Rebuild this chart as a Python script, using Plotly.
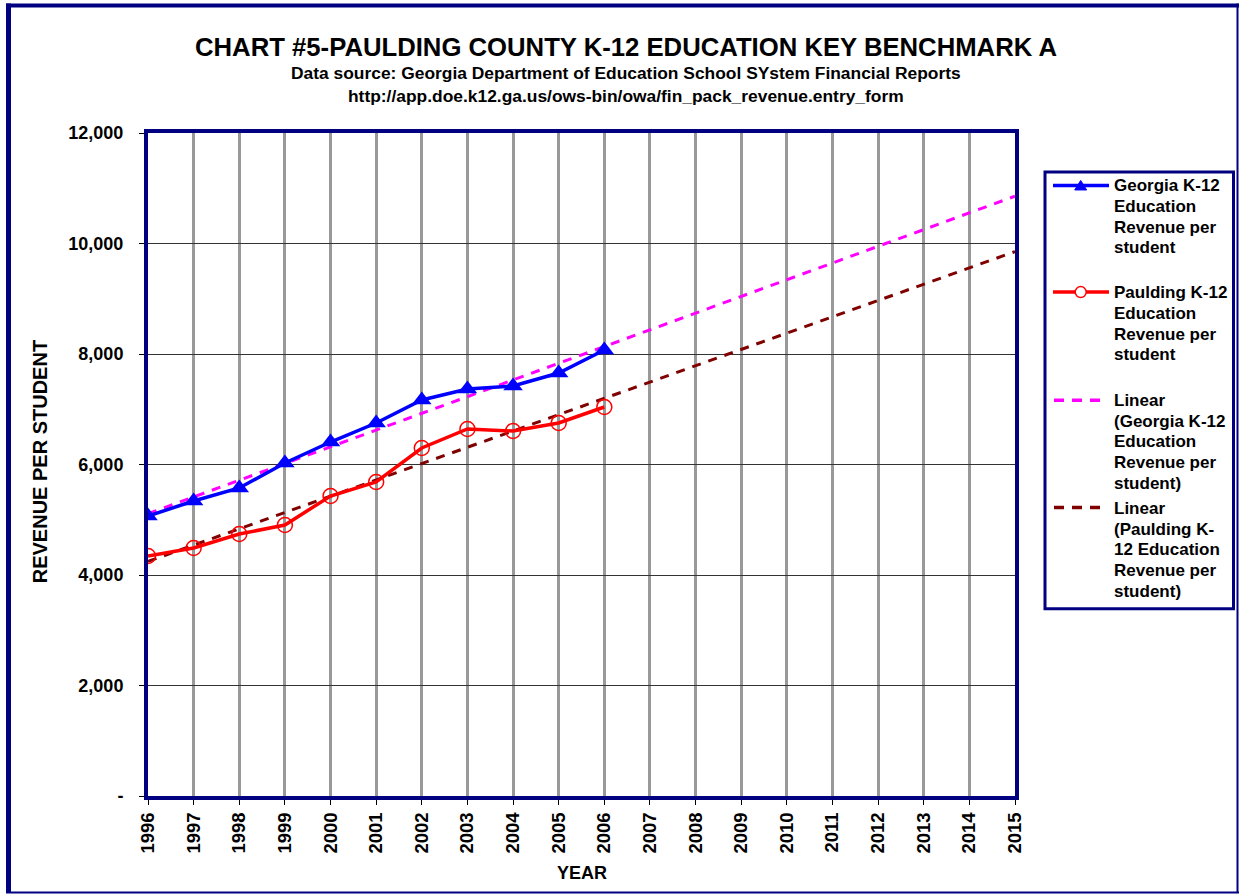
import numpy as np
import plotly.graph_objects as go

years = list(range(1996, 2007))
axis_years = list(range(1996, 2016))
georgia = [5068, 5339, 5575, 6027, 6407, 6751, 7167, 7367, 7421, 7656, 8072]
paulding = [4344, 4489, 4742, 4905, 5430, 5683, 6299, 6643, 6606, 6751, 7041]
y_tickvals = [0, 2000, 4000, 6000, 8000, 10000, 12000]
y_ticktext = ["-", "2,000", "4,000", "6,000", "8,000", "10,000", "12,000"]

legend_georgia = ["Georgia K-12", "Education", "Revenue per", "student"]
legend_paulding = ["Paulding K-12", "Education", "Revenue per", "student"]
legend_lin_georgia = ["Linear", "(Georgia K-12", "Education", "Revenue per", "student)"]
legend_lin_paulding = ["Linear", "(Paulding K-", "12 Education", "Revenue per", "student)"]

FONT = "Liberation Sans, Arial, sans-serif"
NAVY = "#000080"
BLUE = "#0000FF"
RED = "#FF0000"
MAGENTA = "#FF00FF"
MAROON = "#800000"
DASH = "9px,8px"

# Linear trendlines (least squares fit of the data, extended to 2015)
g_fit = np.polyfit(years, georgia, 1)
p_fit = np.polyfit(years, paulding, 1)
g_trend = list(np.polyval(g_fit, axis_years))
p_trend = list(np.polyval(p_fit, axis_years))

W, H = 1239, 894
L, R, T, B = 148, 1015, 132.5, 796


def px(x):
    return (x - L) / (R - L)


def py(y):
    return (B - y) / (B - T)


fig = go.Figure()

fig.add_trace(go.Scatter(
    x=axis_years, y=g_trend, mode="lines", showlegend=False,
    line=dict(color=MAGENTA, width=3, dash=DASH),
))
fig.add_trace(go.Scatter(
    x=axis_years, y=p_trend, mode="lines", showlegend=False,
    line=dict(color=MAROON, width=3, dash=DASH),
))
fig.add_trace(go.Scatter(
    x=years, y=georgia, mode="lines+markers", showlegend=False,
    line=dict(color=BLUE, width=3.5),
    marker=dict(symbol="triangle-up", size=17, color=BLUE),
))
fig.add_trace(go.Scatter(
    x=years, y=paulding, mode="lines+markers", showlegend=False,
    line=dict(color=RED, width=3.5),
    marker=dict(symbol="circle-open", size=15, color=RED, line=dict(width=1.5, color=RED)),
))

bold = lambda s: dict(size=s, family=FONT, color="black", weight="bold")

annotations = [
    dict(text="CHART #5-PAULDING COUNTY K-12 EDUCATION KEY BENCHMARK A",
         x=px(626), y=py(46), font=bold(25.7)),
    dict(text="Data source: Georgia Department of Education School SYstem Financial Reports",
         x=px(626), y=py(72), font=bold(17.4)),
    dict(text="http://app.doe.k12.ga.us/ows-bin/owa/fin_pack_revenue.entry_form",
         x=px(626), y=py(95), font=bold(17.4)),
    dict(text="REVENUE PER STUDENT", x=px(40), y=py(462), textangle=-90, font=bold(20)),
    dict(text="YEAR", x=px(582), y=py(873), font=bold(18)),
]
for a in annotations:
    a.update(xanchor="center")

# Legend (drawn by hand to match the layout of the original)
legend_blocks = [
    (legend_georgia, 185.5),
    (legend_paulding, 292.5),
    (legend_lin_georgia, 400.5),
    (legend_lin_paulding, 508.5),
]
LINE_STEP = 20.6
for lines, y0 in legend_blocks:
    for i, t in enumerate(lines):
        annotations.append(dict(text=t, x=px(1112), y=py(y0 + i * LINE_STEP),
                                xanchor="left", font=bold(17)))
for a in annotations:
    a.update(xref="paper", yref="paper", showarrow=False, yanchor="middle")


def hline(x0, x1, y, color, width, dash=None):
    ln = dict(color=color, width=width)
    if dash:
        ln["dash"] = dash
    return dict(type="line", xref="paper", yref="paper", x0=px(x0), x1=px(x1),
                y0=py(y), y1=py(y), line=ln, layer="above")


shapes = [
    # outer frame
    dict(type="line", xref="paper", yref="paper", x0=px(8.5), x1=px(8.5), y0=py(3), y1=py(893), line=dict(color=NAVY, width=5)),
    dict(type="line", xref="paper", yref="paper", x0=px(6), x1=px(1239), y0=py(5), y1=py(5), line=dict(color=NAVY, width=4)),
    dict(type="line", xref="paper", yref="paper", x0=px(1237.5), x1=px(1237.5), y0=py(3), y1=py(893), line=dict(color=NAVY, width=2)),
    dict(type="line", xref="paper", yref="paper", x0=px(6), x1=px(1239), y0=py(892.5), y1=py(892.5), line=dict(color=NAVY, width=2)),
    # legend box
    dict(type="rect", xref="paper", yref="paper", x0=px(1045), x1=px(1233.5), y0=py(171.5), y1=py(608.5),
         line=dict(color=NAVY, width=3), fillcolor="rgba(0,0,0,0)"),
    # legend samples
    hline(1053, 1109, 185, BLUE, 3.5),
    dict(type="path", xref="paper", yref="paper", layer="above",
         path="M {},{} L {},{} L {},{} Z".format(px(1074.7), py(189.5), px(1086.7), py(189.5), px(1080.7), py(180)),
         fillcolor=BLUE, line=dict(color=BLUE, width=1)),
    hline(1053, 1109, 291.7, RED, 3.5),
    dict(type="circle", xref="paper", yref="paper", layer="above",
         x0=px(1075.2), x1=px(1086.2), y0=py(286.2), y1=py(297.2),
         fillcolor="white", line=dict(color=RED, width=1.5)),
    hline(1054, 1102, 400, MAGENTA, 3.5, "10px,8px"),
    hline(1054, 1102, 507.3, MAROON, 3.5, "10px,8px"),
]

fig.update_layout(
    width=W, height=H,
    margin=dict(l=L, r=W - R, t=T, b=H - B),
    paper_bgcolor="white", plot_bgcolor="white",
    showlegend=False,
    annotations=annotations,
    shapes=shapes,
    xaxis=dict(
        range=[1996, 2015], tickmode="array", tickvals=axis_years,
        ticktext=[str(y) for y in axis_years], tickangle=-90,
        showgrid=True, gridcolor="#999999", gridwidth=3,
        showline=True, linecolor=NAVY, linewidth=4, mirror=True,
        ticks="outside", ticklen=5, tickcolor="black", tickwidth=1,
        tickfont=bold(18.5),
        zeroline=False,
    ),
    yaxis=dict(
        range=[0, 12000], tickmode="array", tickvals=y_tickvals, ticktext=y_ticktext,
        showgrid=True, gridcolor="#333333", gridwidth=1,
        showline=True, linecolor=NAVY, linewidth=4, mirror=True,
        ticks="outside", ticklen=5, tickcolor="black", tickwidth=1,
        ticklabelstandoff=12,
        tickfont=bold(18),
        zeroline=False,
    ),
)

fig.write_html("out.html", config={"displayModeBar": False},
               post_script="document.body.style.margin='0px';")
